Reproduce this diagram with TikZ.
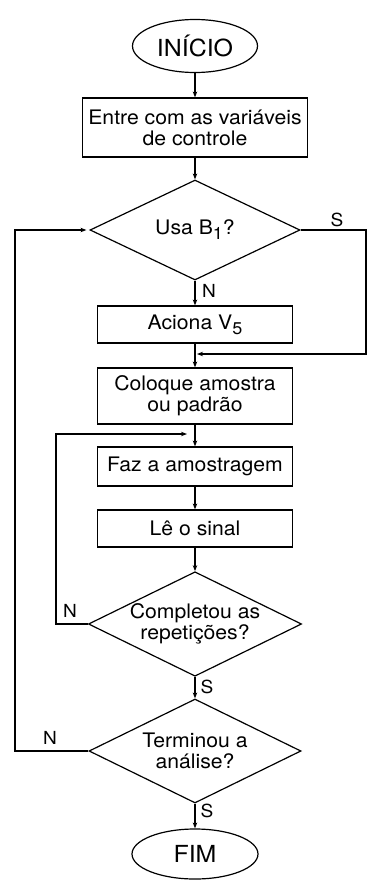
\documentclass[tikz,border=0pt]{standalone}
\usepackage{fontspec}
\setmainfont{TeX Gyre Heros}[FakeStretch=1.06]
\usetikzlibrary{shapes.geometric,arrows.meta}
\newcommand{\subs}[1]{\raisebox{-5pt}{\fontsize{17}{17}\selectfont #1}}
\begin{document}
\begin{tikzpicture}[x=1pt,y=-1pt, line width=1.2pt,
 every node/.style={font=\fontsize{20}{21}\selectfont},
 box/.style={draw, rectangle, minimum width=195pt, align=center, inner sep=0pt},
 dec/.style={draw, diamond, aspect=2.04, minimum width=212pt, minimum height=104pt, inner sep=0pt, align=center},
 term/.style={draw, ellipse, minimum width=125pt, minimum height=53pt, inner sep=0pt, font=\fontsize{23.5}{24}\selectfont},
 arr/.style={-{Stealth[length=6pt,width=4.5pt]}},
 lbl/.style={font=\fontsize{18}{18}\selectfont, inner sep=0pt}
]
\useasboundingbox (0,0) rectangle (368,881);
\node[term] (inicio) at (195,46) {INÍCIO};
\node[box, minimum width=225pt, minimum height=59pt] (b1) at (195,127.5) {Entre com as variáveis\\de controle};
\node[dec, minimum width=210pt, minimum height=100pt] (d1) at (195,230) {Usa B\subs{1}?};
\node[box, minimum height=37pt] (aciona) at (195,324.5) {Aciona V\subs{5}};
\node[box, minimum height=56pt] (coloque) at (195,396) {Coloque amostra\\ou padrão};
\node[box, minimum height=39pt] (faz) at (195,466.5) {Faz a amostragem};
\node[box, minimum height=37pt] (le) at (195,528.5) {Lê o sinal};
\node[dec] (d2) at (195,624) {Completou as\\repetições?};
\node[dec] (d3) at (195,751) {Terminou a\\análise?};
\node[term, minimum width=126pt, minimum height=50pt] (fim) at (195,854) {FIM};

\coordinate (sR) at (366,230);
\coordinate (sB) at (366,354);
\coordinate (m1) at (197,354);
\coordinate (m2) at (187,434);
\coordinate (l2a) at (56,624);
\coordinate (l2b) at (56,434);
\coordinate (l3a) at (15,751);
\coordinate (l3b) at (15,230);

\draw[arr] (inicio) -- (b1);
\draw[arr] (b1) -- (d1);
\draw[arr] (d1) -- (aciona);
\draw[arr] (aciona) -- (coloque);
\draw[arr] (d1.east) -- (sR) -- (sB) -- (m1);
\draw[arr] (coloque) -- (faz);
\draw[arr] (d2.west) -- (l2a) -- (l2b) -- (m2);
\draw[arr] (faz) -- (le);
\draw[arr] (le) -- (d2);
\draw[arr] (d2) -- (d3);
\draw[arr] (d3) -- (fim);
\draw[arr, shorten >=3pt] (d3.west) -- (l3a) -- (l3b) -- (d1.west);

\node[lbl] (sl1) at (337,220) {S};
\node[lbl] (nl1) at (209,291) {N};
\node[lbl] (nl2) at (70,611) {N};
\node[lbl] (sl2) at (207,687) {S};
\node[lbl] (nl3) at (50,738) {N};
\node[lbl] (sl3) at (207,811) {S};
\end{tikzpicture}
\end{document}
